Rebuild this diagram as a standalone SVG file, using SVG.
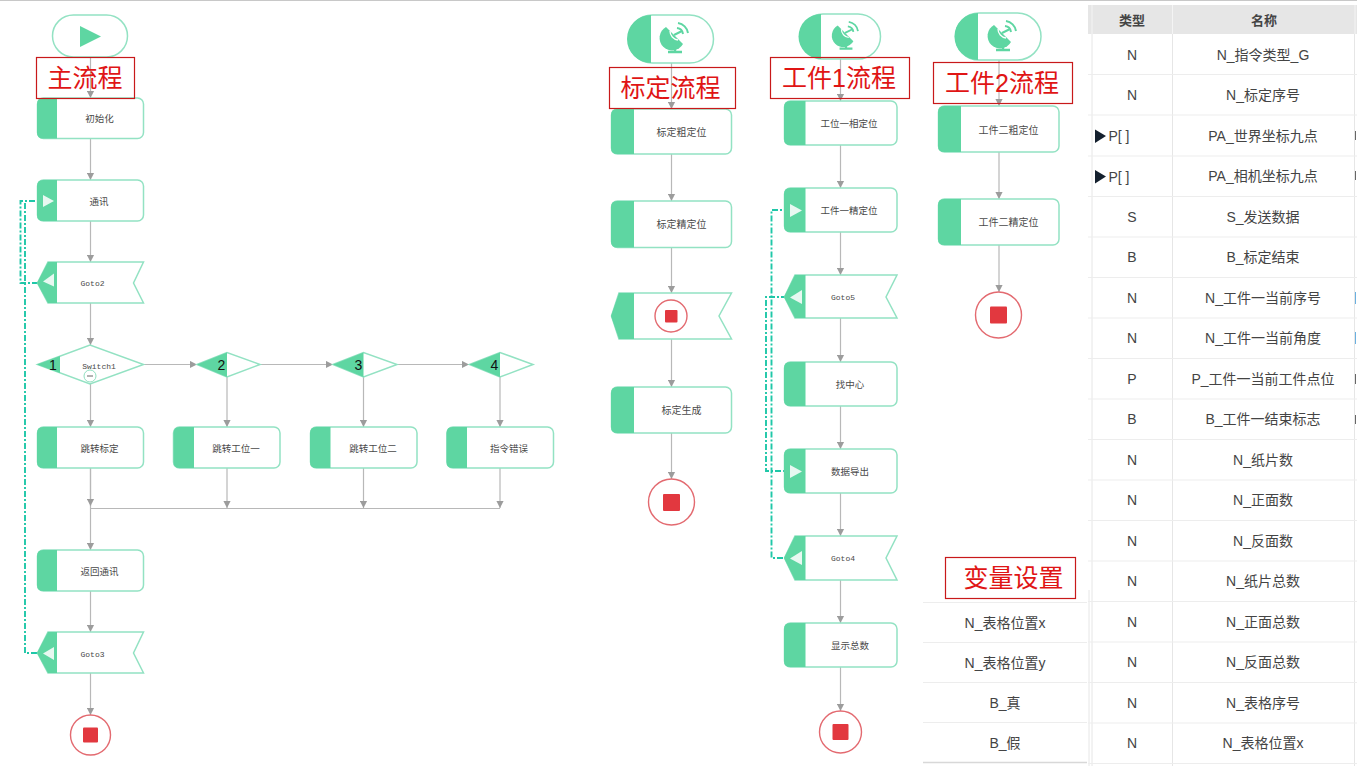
<svg xmlns="http://www.w3.org/2000/svg" width="1357" height="766" viewBox="0 0 1357 766">
<style>
text{font-family:"Liberation Sans","Noto Sans CJK SC",sans-serif;text-anchor:middle;dominant-baseline:central}
.o{fill:#fff;stroke:#93e2c3;stroke-width:1.5}
.g{fill:#5ed6a2}
.w{fill:#e8f8f1}
.t9{font-size:9.500px;fill:#4a4a4a}
.t10{font-size:10px;fill:#4a4a4a}
.m{font-family:"Liberation Mono","DejaVu Sans Mono",monospace;font-size:8px;fill:#4a4a4a}
.n{font-size:14px;fill:#111}
.l{fill:none;stroke:#b8b8b8;stroke-width:1.2}
.d{fill:none;stroke:#1fc7a8;stroke-width:1.900;stroke-dasharray:6 2 2 2}
.r{fill:none;stroke:#c8191a;stroke-width:1.2}
.rt{font-size:25px;fill:#e01515}
.c{fill:#fff;stroke:#e36a70;stroke-width:1.4}
.s{fill:#e2383f}
.tb{font-size:14px;fill:#444}
.tn{font-size:13px;font-weight:bold;fill:#444}
.h{fill:none;stroke:#ededed;stroke-width:1.2}
.v{fill:none;stroke:#e6e6e6;stroke-width:1}
</style>
<defs>
<marker id="a" markerUnits="userSpaceOnUse" markerWidth="8" markerHeight="8" refX="7" refY="4" orient="auto"><path d="M0,0.4L7,4L0,7.6Z" fill="#9c9c9c"/></marker>
<g id="dish">
<path d="M-9,-13A12.500,12.500 0 1 0 8,4Z" fill="#5ed6a2"/>
<path d="M-5,-9A9,9 0 0 0 3,0" fill="none" stroke="#fff" stroke-width="1.300"/>
<path d="M-1,-5L7,-9" fill="none" stroke="#5ed6a2" stroke-width="2"/>
<path d="M2,-12A7,7 0 0 1 8,-6M3,-17A12,12 0 0 1 13,-7" fill="none" stroke="#5ed6a2" stroke-width="2"/>
<path d="M0,6V11M-7,12H7" fill="none" stroke="#5ed6a2" stroke-width="2.400"/>
</g>
</defs>
<rect width="1357" height="766" fill="#fff"/>
<rect width="1357" height="1" fill="#c8c8c8"/>

<g id="connectors">
<path class="l" marker-end="url(#a)" d="M90.500,56V98"/>
<path class="l" marker-end="url(#a)" d="M90.500,138V180"/>
<path class="l" marker-end="url(#a)" d="M90.500,221V262"/>
<path class="l" marker-end="url(#a)" d="M90.500,303V345"/>
<path class="l" marker-end="url(#a)" d="M90.500,384V427"/>
<path class="l" marker-end="url(#a)" d="M143,364.500H197"/>
<path class="l" marker-end="url(#a)" d="M260,364.500H333"/>
<path class="l" marker-end="url(#a)" d="M397,364.500H469"/>
<path class="l" marker-end="url(#a)" d="M227,377V427"/>
<path class="l" marker-end="url(#a)" d="M363.500,377V427"/>
<path class="l" marker-end="url(#a)" d="M500,377V427"/>
<path class="l" marker-end="url(#a)" d="M90.500,468V550"/>
<path class="l" marker-end="url(#a)" d="M90.500,468V506"/>
<path class="l" marker-end="url(#a)" d="M227,468V508"/>
<path class="l" marker-end="url(#a)" d="M363.500,468V508"/>
<path class="l" marker-end="url(#a)" d="M500,468V508"/>
<path class="l" d="M90.500,508.500H500"/>
<path class="l" marker-end="url(#a)" d="M90.500,591V632"/>
<path class="l" marker-end="url(#a)" d="M90.500,673V715"/>
<path class="d" d="M47,201H20.500V283H40"/>
<path class="d" d="M47,201H25V653H40"/>
<path class="l" marker-end="url(#a)" d="M671.500,63V109"/>
<path class="l" marker-end="url(#a)" d="M671.500,154V201"/>
<path class="l" marker-end="url(#a)" d="M671.500,247V293"/>
<path class="l" marker-end="url(#a)" d="M671.500,339V387"/>
<path class="l" marker-end="url(#a)" d="M671.500,433V479"/>
<path class="l" marker-end="url(#a)" d="M840.500,59V101"/>
<path class="l" marker-end="url(#a)" d="M840.500,145V188"/>
<path class="l" marker-end="url(#a)" d="M840.500,232V275"/>
<path class="l" marker-end="url(#a)" d="M840.500,318V362"/>
<path class="l" marker-end="url(#a)" d="M840.500,406V449"/>
<path class="l" marker-end="url(#a)" d="M840.500,493V536"/>
<path class="l" marker-end="url(#a)" d="M840.500,580V623"/>
<path class="l" marker-end="url(#a)" d="M840.500,667V711"/>
<path class="d" d="M790,210H771.500V558H787"/>
<path class="d" d="M787,297H766V471H790"/>
<path class="l" marker-end="url(#a)" d="M999,60V106"/>
<path class="l" marker-end="url(#a)" d="M999,152V199"/>
<path class="l" marker-end="url(#a)" d="M999,245V292"/>
</g>

<g id="start-main"><rect class="o" x="52.500" y="15" width="75" height="42" rx="21"/><path class="g" d="M80,26L101,36.500L80,47Z"/></g>
<g id="n-init"><rect class="o" x="37.500" y="98" width="106" height="40.500" rx="6"/><path class="g" d="M43,98H57V138.500H43Q37,138.500 37,132.500V104Q37,98 43,98Z"/><text class="t9" x="99.500" y="118.500">初始化</text></g>
<g id="n-comm"><rect class="o" x="37.500" y="180" width="106" height="41" rx="6"/><path class="g" d="M43,180H57V221H43Q37,221 37,215V186Q37,180 43,180Z"/><path class="w" d="M43,195L54,201L43,207Z"/><text class="t9" x="99" y="201">通讯</text></g>
<g id="n-goto2"><path class="o" d="M48,262H143.500L133.500,283L143.500,303H48L37.500,283Z"/><path class="g" d="M48,262H57V303H48L37,283Z"/><path class="w" d="M54,275V288L43,283Z" transform="translate(0,-1.500)"/><text class="m" x="92.500" y="283.500">Goto2</text></g>
<g id="n-switch"><path class="o" d="M37.500,364.500L90,345L143.500,364.500L90,384Z"/><path class="g" d="M37,364.500L60,356V373Z"/><text class="n" x="53" y="365">1</text><text class="m" x="99" y="366">Switch1</text><circle cx="90" cy="376" r="6" fill="#fff" stroke="#90e0c0"/><path d="M87,376H93" stroke="#666" stroke-width="1"/></g>
<g id="n-case2"><path class="o" d="M197,364.500L227,352.500L260,364.500L227,377Z"/><path class="g" d="M197,364.500L227,352.500V377Z"/><text class="n" x="221.500" y="365">2</text></g>
<g id="n-case3"><path class="o" d="M333,364.500L363.500,352.500L397,364.500L363.500,377Z"/><path class="g" d="M333,364.500L363.500,352.500V377Z"/><text class="n" x="358.500" y="365">3</text></g>
<g id="n-case4"><path class="o" d="M469.500,364.500L500,352.500L533,364.500L500,377Z"/><path class="g" d="M469.500,364.500L500,352.500V377Z"/><text class="n" x="494.500" y="365">4</text></g>
<g id="n-j0"><rect class="o" x="37.500" y="427" width="106" height="41" rx="6"/><path class="g" d="M43,427H57V468H43Q37,468 37,462V433Q37,427 43,427Z"/><text class="t9" x="99.500" y="448">跳转标定</text></g>
<g id="n-j1"><rect class="o" x="173.500" y="427" width="106.500" height="41" rx="6"/><path class="g" d="M179.500,427H194V468H179.500Q173.500,468 173.500,462V433Q173.500,427 179.500,427Z"/><text class="t9" x="236" y="448">跳转工位一</text></g>
<g id="n-j2"><rect class="o" x="310.500" y="427" width="106.500" height="41" rx="6"/><path class="g" d="M316,427H330.500V468H316Q310,468 310,462V433Q310,427 316,427Z"/><text class="t9" x="373" y="448">跳转工位二</text></g>
<g id="n-err"><rect class="o" x="447" y="427" width="106.500" height="41" rx="6"/><path class="g" d="M452.500,427H467V468H452.500Q446.500,468 446.500,462V433Q446.500,427 452.500,427Z"/><text class="t9" x="509" y="448">指令错误</text></g>
<g id="n-ret"><rect class="o" x="37.500" y="550" width="106" height="41" rx="6"/><path class="g" d="M43,550H57V591H43Q37,591 37,585V556Q37,550 43,550Z"/><text class="t9" x="99.500" y="571.500">返回通讯</text></g>
<g id="n-goto3"><path class="o" d="M48,632H143.500L133.500,653L143.500,673H48L37.500,653Z"/><path class="g" d="M48,632H57V673H48L37,653Z"/><path class="w" d="M54,647V660L43,653.500Z"/><text class="m" x="92.500" y="654">Goto3</text></g>
<g id="stop-main"><circle class="c" cx="90.500" cy="735" r="20"/><rect class="s" x="83" y="727.500" width="15" height="15" rx="1"/></g>

<g id="start-cal"><rect class="o" x="628.500" y="15" width="85" height="48" rx="24"/><path class="g" d="M651,15V63A24,24 0 0 1 651,15Z"/><use href="#dish" x="675" y="40"/></g>
<g id="n-c1"><rect class="o" x="611.500" y="109" width="120" height="45" rx="6"/><path class="g" d="M617,109H634V154H617Q611,154 611,148V115Q611,109 617,109Z"/><text class="t10" x="681.500" y="132">标定粗定位</text></g>
<g id="n-c2"><rect class="o" x="611.500" y="201" width="120" height="46.500" rx="6"/><path class="g" d="M617,201H634V247.500H617Q611,247.500 611,241.500V207Q611,201 617,201Z"/><text class="t10" x="681.500" y="224.500">标定精定位</text></g>
<g id="n-c3"><path class="o" d="M619,293H731.500L719,316L731.500,339H619L611.500,316Z"/><path class="g" d="M619,293H634V339H619L611,316Z"/><circle class="c" cx="671" cy="316" r="16"/><rect class="s" x="665" y="310" width="12.500" height="12.500" rx="1"/></g>
<g id="n-c4"><rect class="o" x="611.500" y="387" width="120" height="46" rx="6"/><path class="g" d="M617,387H634V433H617Q611,433 611,427V393Q611,387 617,387Z"/><text class="t10" x="681.500" y="410.500">标定生成</text></g>
<g id="stop-cal"><circle class="c" cx="671.500" cy="502" r="23"/><rect class="s" x="663" y="494" width="17" height="17" rx="1"/></g>

<g id="start-w1"><rect class="o" x="800.500" y="14" width="80" height="45" rx="22.500"/><path class="g" d="M821,14V59A22.500,22.500 0 0 1 821,14Z"/><use href="#dish" transform="translate(846,37.500) scale(0.92)"/></g>
<g id="n-w1"><rect class="o" x="784.500" y="101" width="112.500" height="44" rx="6"/><path class="g" d="M790,101H805.500V145H790Q784,145 784,139V107Q784,101 790,101Z"/><text class="t9" x="849" y="123.500">工位一相定位</text></g>
<g id="n-w2"><rect class="o" x="784.500" y="188" width="112.500" height="44" rx="6"/><path class="g" d="M790,188H805.500V232H790Q784,232 784,226V194Q784,188 790,188Z"/><path class="w" d="M790,204L802,210.500L790,217Z"/><text class="t9" x="849" y="210.500">工件一精定位</text></g>
<g id="n-goto5"><path class="o" d="M795,275H897L886,297L897,318H795L784.500,297Z"/><path class="g" d="M795,275H805.500V318H795L784,297Z"/><path class="w" d="M802,290V304L790,297.500Z"/><text class="m" x="843" y="297.500">Goto5</text></g>
<g id="n-w3"><rect class="o" x="784.500" y="362" width="112.500" height="44" rx="6"/><path class="g" d="M790,362H805.500V406H790Q784,406 784,400V368Q784,362 790,362Z"/><text class="t9" x="850" y="384.500">找中心</text></g>
<g id="n-w4"><rect class="o" x="784.500" y="449" width="112.500" height="44" rx="6"/><path class="g" d="M790,449H805.500V493H790Q784,493 784,487V455Q784,449 790,449Z"/><path class="w" d="M790,465L802,471.500L790,478Z"/><text class="t9" x="850" y="471.500">数据导出</text></g>
<g id="n-goto4"><path class="o" d="M795,536H897L886,558L897,580H795L784.500,558Z"/><path class="g" d="M795,536H805.500V580H795L784,558Z"/><path class="w" d="M802,551V565L790,558.500Z"/><text class="m" x="843" y="558.500">Goto4</text></g>
<g id="n-w5"><rect class="o" x="784.500" y="623" width="112.500" height="44" rx="6"/><path class="g" d="M790,623H805.500V667H790Q784,667 784,661V629Q784,623 790,623Z"/><text class="t9" x="850" y="645.500">显示总数</text></g>
<g id="stop-w1"><circle class="c" cx="840.500" cy="732" r="21"/><rect class="s" x="832.500" y="724" width="16" height="16" rx="1"/></g>

<g id="start-w2"><rect class="o" x="955.500" y="13" width="85.500" height="47" rx="23.500"/><path class="g" d="M978,13V60A23.500,23.500 0 0 1 978,13Z"/><use href="#dish" x="1003" y="38"/></g>
<g id="n-x1"><rect class="o" x="938.500" y="106" width="120.500" height="46" rx="6"/><path class="g" d="M944,106H961V152H944Q938,152 938,146V112Q938,106 944,106Z"/><text class="t10" x="1008.500" y="130">工件二粗定位</text></g>
<g id="n-x2"><rect class="o" x="938.500" y="199" width="120.500" height="46" rx="6"/><path class="g" d="M944,199H961V245H944Q938,245 938,239V205Q938,199 944,199Z"/><text class="t10" x="1008.500" y="222.500">工件二精定位</text></g>
<g id="stop-w2"><circle class="c" cx="998.500" cy="315" r="23"/><rect class="s" x="990" y="306.500" width="17" height="17" rx="1"/></g>

<g id="table">
<rect x="1088" y="5" width="269" height="29" fill="#e6e6e6"/>
<path d="M1092,5V34M1172.500,5V34M1355,5V34" stroke="#f4f4f4" fill="none"/>
<path class="v" d="M1092,34V766M1172.500,34V766M1354.500,34V766M1089,590V766"/>
<path class="h" d="M1088,74.500H1357M1088,115H1357M1088,156H1357M1088,196.500H1357M1088,237H1357M1088,277.500H1357M1088,318H1357M1088,358.500H1357M1088,399H1357M1088,439.500H1357M1088,480H1357M1088,520.500H1357M1088,561H1357M1088,601.500H1357M1088,642H1357M1088,682.500H1357M1088,723H1357M1088,763.500H1357"/>
<path class="h" d="M923,602.500H1087M923,642.500H1087M923,682.500H1087M923,722.500H1087"/>
<path d="M923,762.500H1087" stroke="#d8d8d8" stroke-width="1.500"/>
<text class="tn" x="1132" y="20">类型</text><text class="tn" x="1264" y="20">名称</text>
<text class="tb" x="1132" y="55">N</text><text class="tb" x="1263" y="55">N_指令类型_G</text>
<text class="tb" x="1132" y="95">N</text><text class="tb" x="1263" y="95">N_标定序号</text>
<path d="M1095,129.500L1106,136L1095,143Z" fill="#14202e"/><text class="tb" x="1119" y="136">P[ ]</text><text class="tb" x="1263" y="136">PA_世界坐标九点</text>
<path d="M1095,170L1106,176.500L1095,183.500Z" fill="#14202e"/><text class="tb" x="1119" y="176.500">P[ ]</text><text class="tb" x="1263" y="176">PA_相机坐标九点</text>
<text class="tb" x="1132" y="217">S</text><text class="tb" x="1263" y="217">S_发送数据</text>
<text class="tb" x="1132" y="257">B</text><text class="tb" x="1263" y="257">B_标定结束</text>
<text class="tb" x="1132" y="298">N</text><text class="tb" x="1263" y="298">N_工件一当前序号</text>
<text class="tb" x="1132" y="338">N</text><text class="tb" x="1263" y="338">N_工件一当前角度</text>
<text class="tb" x="1132" y="379">P</text><text class="tb" x="1263" y="379">P_工件一当前工件点位</text>
<text class="tb" x="1132" y="419">B</text><text class="tb" x="1263" y="419">B_工件一结束标志</text>
<text class="tb" x="1132" y="460">N</text><text class="tb" x="1263" y="460">N_纸片数</text>
<text class="tb" x="1132" y="500">N</text><text class="tb" x="1263" y="500">N_正面数</text>
<text class="tb" x="1132" y="541">N</text><text class="tb" x="1263" y="541">N_反面数</text>
<text class="tb" x="1132" y="581">N</text><text class="tb" x="1263" y="581">N_纸片总数</text>
<text class="tb" x="1132" y="622">N</text><text class="tb" x="1263" y="622">N_正面总数</text>
<text class="tb" x="1132" y="662">N</text><text class="tb" x="1263" y="662">N_反面总数</text>
<text class="tb" x="1132" y="703">N</text><text class="tb" x="1263" y="703">N_表格序号</text>
<text class="tb" x="1132" y="743">N</text><text class="tb" x="1263" y="743">N_表格位置x</text>
<text class="tb" x="1005" y="623">N_表格位置x</text>
<text class="tb" x="1005" y="663">N_表格位置y</text>
<text class="tb" x="1005" y="703">B_真</text>
<text class="tb" x="1005" y="743">B_假</text>
<path d="M1355.500,131V140M1355.500,171V180M1355.500,374V384M1355.500,415V424" stroke="#666" stroke-width="1"/>
<path d="M1355.500,292V304M1355.500,332V344" stroke="#6ab0e0" stroke-width="1"/>
</g>

<g id="titles">
<rect class="r" x="36.500" y="57.500" width="98" height="41"/><text class="rt" x="85" y="78">主流程</text>
<rect class="r" x="609.500" y="67.500" width="126" height="41"/><text class="rt" x="670.500" y="88">标定流程</text>
<rect class="r" x="770.500" y="57.500" width="139" height="41"/><text class="rt" x="839" y="78">工件1流程</text>
<rect class="r" x="933.500" y="62.500" width="139" height="41"/><text class="rt" x="1002" y="83">工件2流程</text>
<rect class="r" x="945.500" y="557.500" width="130" height="41"/><text class="rt" x="1013.500" y="578">变量设置</text>
</g>
</svg>
